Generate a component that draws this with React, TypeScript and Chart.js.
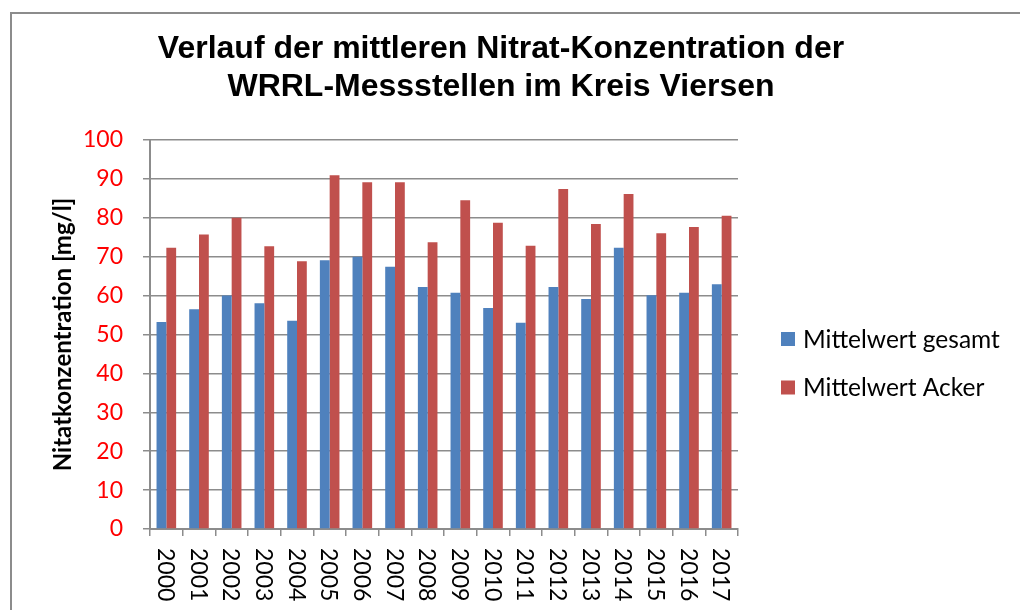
import React, { useEffect, useRef } from "react";
import { Chart, registerables } from "chart.js";

Chart.register(...registerables);

const years = ["2000", "2001", "2002", "2003", "2004", "2005", "2006", "2007", "2008", "2009", "2010", "2011", "2012", "2013", "2014", "2015", "2016", "2017"];
const mittelwertGesamt = [53.2, 56.5, 60.0, 58.0, 53.5, 69.1, 70.0, 67.4, 62.2, 60.7, 56.8, 53.0, 62.2, 59.1, 72.3, 60.1, 60.7, 62.9];
const mittelwertAcker = [72.3, 75.7, 80.0, 72.7, 68.8, 90.9, 89.1, 89.1, 73.7, 84.5, 78.7, 72.8, 87.4, 78.4, 86.1, 76.0, 77.6, 80.5];
const seriesLabels = ["Mittelwert gesamt", "Mittelwert Acker"];
const seriesColors = ["#4F81BD", "#C0504D"];
const titleLines = ["Verlauf der mittleren Nitrat-Konzentration der", "WRRL-Messstellen im Kreis Viersen"];
const yAxisTitle = "Nitatkonzentration [mg/l]";

const LABEL_FONT = "Lato";
const GRID = "#8c8c8c";

const framePlugin = {
  id: "frame",
  beforeDraw(chart: any) {
    const ctx = chart.ctx;
    ctx.save();
    ctx.fillStyle = "#ffffff";
    ctx.fillRect(0, 0, chart.width, chart.height);
    ctx.strokeStyle = GRID;
    ctx.lineWidth = 2;
    ctx.strokeRect(11, 13, chart.width + 100, chart.height + 100);
    ctx.restore();
  },
};

const xLabelPlugin = {
  id: "xLabels",
  afterDraw(chart: any) {
    const ctx = chart.ctx;
    const xs = chart.scales.x;
    ctx.save();
    ctx.font = `23px ${LABEL_FONT}`;
    ctx.fillStyle = "#000000";
    ctx.textAlign = "left";
    ctx.textBaseline = "middle";
    (chart.data.labels as string[]).forEach((lab, i) => {
      const x = xs.getPixelForValue(i);
      ctx.save();
      ctx.translate(x - 1, xs.top + 19);
      ctx.rotate(Math.PI / 2);
      ctx.fillText(lab, 0, 0);
      ctx.restore();
    });
    ctx.restore();
  },
};

const legendPlugin = {
  id: "customLegend",
  afterDraw(chart: any) {
    const ctx = chart.ctx;
    const x0 = chart.chartArea.right + 43;
    const y0 = 332;
    ctx.save();
    ctx.font = `24.5px ${LABEL_FONT}`;
    ctx.textAlign = "left";
    ctx.textBaseline = "middle";
    chart.data.datasets.forEach((ds: any, i: number) => {
      const y = y0 + i * 48.5;
      ctx.fillStyle = ds.backgroundColor;
      ctx.fillRect(x0, y, 14, 14);
      ctx.fillStyle = "#000000";
      ctx.fillText(ds.label, x0 + 22, y + 8);
    });
    ctx.restore();
  },
};

export default function App() {
  const ref = useRef<HTMLCanvasElement | null>(null);
  useEffect(() => {
    document.body.style.margin = "0";
    if (!ref.current) return;
    const chart = new Chart(ref.current, {
      type: "bar",
      data: {
        labels: years,
        datasets: [
          { label: seriesLabels[0], data: mittelwertGesamt, backgroundColor: seriesColors[0], borderWidth: 0, categoryPercentage: 0.6, barPercentage: 1 },
          { label: seriesLabels[1], data: mittelwertAcker, backgroundColor: seriesColors[1], borderWidth: 0, categoryPercentage: 0.6, barPercentage: 1 },
        ],
      },
      options: {
        responsive: false,
        animation: false,
        layout: { padding: { left: 0, right: 18, top: 0, bottom: 0 } },
        plugins: {
          legend: { display: false },
          tooltip: { enabled: false },
          title: {
            display: true,
            text: titleLines,
            color: "#000000",
            font: { family: "Liberation Sans", weight: "bold", size: 32, lineHeight: 1.19 },
            padding: { top: 30, bottom: 33.8 },
          },
        },
        scales: {
          x: {
            type: "category",
            offset: true,
            grid: { display: true, offset: true, drawOnChartArea: false, drawTicks: true, tickLength: 7, color: GRID, lineWidth: 1.5 },
            border: { display: true, color: GRID, width: 2 },
            ticks: { display: false },
            afterFit: (s: any) => { s.height = 81; },
          },
          y: {
            type: "linear",
            min: 0,
            max: 100,
            position: "left",
            ticks: { stepSize: 10, color: "#FF0000", font: { family: LABEL_FONT, size: 23 }, padding: 20 },
            grid: { color: GRID, lineWidth: 1.5, drawTicks: true, tickLength: 7 },
            border: { display: true, color: GRID, width: 2 },
            title: {
              display: true,
              text: yAxisTitle,
              color: "#000000",
              font: { family: LABEL_FONT, weight: "bold", size: 24, lineHeight: 1.2 },
              padding: { top: 49, bottom: 0 },
            },
            afterFit: (s: any) => { s.width = 150; },
          },
          r: {
            type: "linear",
            position: "right",
            display: true,
            grid: { display: false, drawTicks: false },
            border: { display: false },
            ticks: { display: false },
            afterFit: (s: any) => { s.width = 264; },
          },
        },
      } as any,
      plugins: [framePlugin, xLabelPlugin, legendPlugin],
    });
    return () => chart.destroy();
  }, []);
  return (
    <div style={{ width: 1020, height: 610 }}>
      <canvas ref={ref} width={1020} height={610} style={{ display: "block" }} />
    </div>
  );
}
